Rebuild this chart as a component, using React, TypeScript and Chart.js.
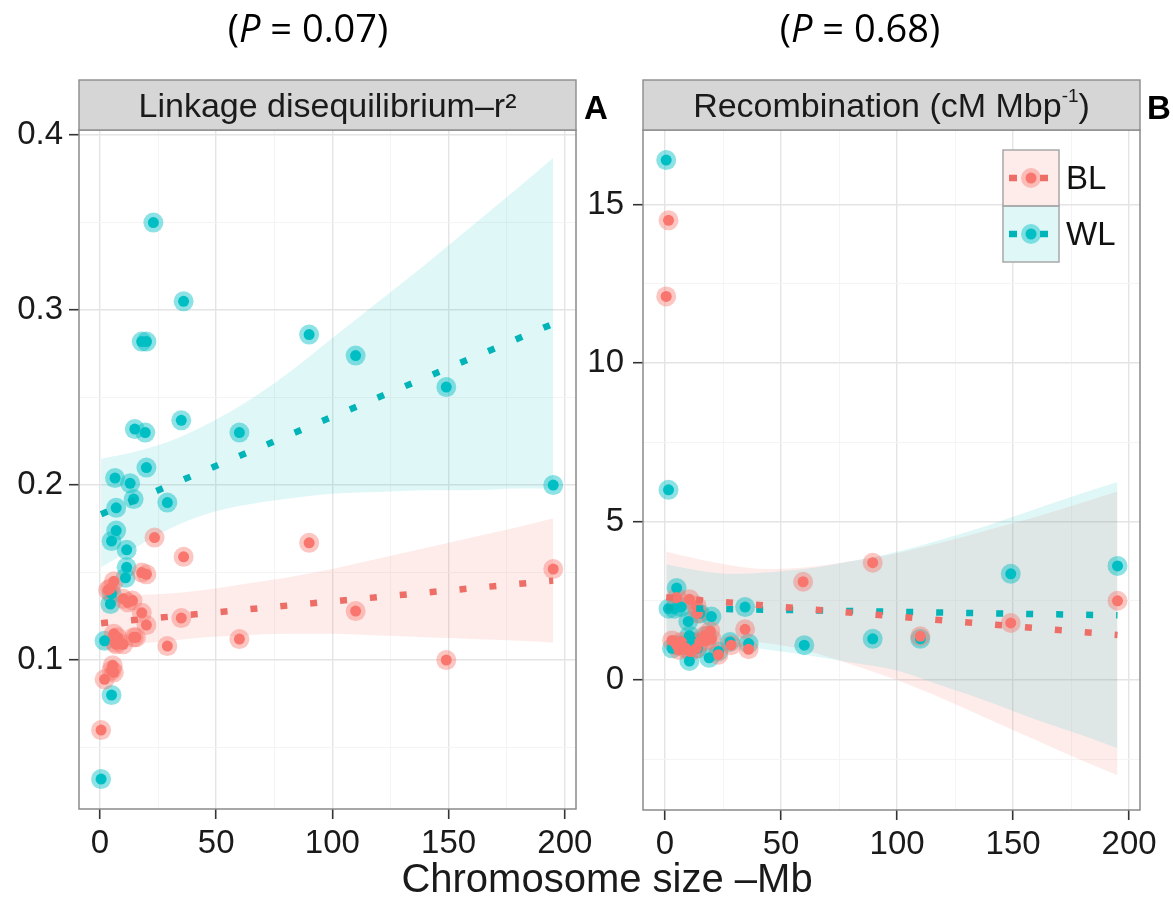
import React, { useEffect, useRef } from "react";
import { Chart, registerables } from "chart.js";

Chart.register(...registerables);

type XY = [number, number];

const RED = "#F8766D";
const TEAL = "#00BFC4";
const RED_HALO = "rgba(248,118,109,0.42)";
const TEAL_HALO = "rgba(0,191,196,0.45)";
const RED_LINE = "#EC6E66";
const TEAL_LINE = "#00B4B8";
const RED_BAND = "rgba(248,118,109,0.14)";
const TEAL_BAND = "rgba(0,191,196,0.12)";
const FONT = '"Liberation Sans", Arial, Helvetica, sans-serif';

// ---- Panel A: linkage disequilibrium (r²) against chromosome size (Mb) ----
const ldBL: XY[] = [
  [0.5, 0.06], [2, 0.089], [3.5, 0.14], [4.5, 0.141], [5, 0.094], [5.5, 0.097],
  [6, 0.093], [6, 0.115], [6, 0.145], [6.5, 0.11], [7, 0.109], [7.5, 0.113],
  [10, 0.109], [10, 0.135], [12, 0.133], [14, 0.134], [14.5, 0.113], [15.5, 0.113],
  [18, 0.127], [18, 0.15], [20, 0.12], [20, 0.149], [23.5, 0.17], [29, 0.108],
  [35, 0.124], [36, 0.159], [60, 0.112], [90, 0.167], [110, 0.128], [149, 0.1],
  [195, 0.152],
];
const ldWL: XY[] = [
  [0.5, 0.032], [2, 0.111], [4.5, 0.132], [5, 0.08], [5, 0.138], [5, 0.168],
  [6.5, 0.204], [7, 0.174], [7, 0.187], [11, 0.147], [11.5, 0.153], [11.5, 0.163],
  [13, 0.201], [14.5, 0.192], [15, 0.232], [18, 0.282], [19.5, 0.23], [20, 0.282],
  [20, 0.21], [23, 0.35], [29, 0.19], [35, 0.237], [36, 0.305], [60, 0.23],
  [90, 0.286], [110, 0.274], [149, 0.256], [195, 0.2],
];
const ldFitBL: XY[] = [[0.5, 0.1211], [195, 0.1454]];
const ldFitWL: XY[] = [[0.5, 0.1833], [195, 0.2922]];

// x positions at which the confidence bands are traced
const bandSize = [0.5, 15, 30, 45, 60, 80, 100, 120, 140, 160, 180, 195];
const ldBandBLUpper = [0.136, 0.137, 0.138, 0.14, 0.143, 0.147, 0.152, 0.158, 0.164, 0.17, 0.176, 0.181];
const ldBandBLLower = [0.106, 0.109, 0.111, 0.113, 0.114, 0.115, 0.115, 0.114, 0.113, 0.112, 0.111, 0.11];
const ldBandWLUpper = [0.215, 0.219, 0.225, 0.234, 0.245, 0.263, 0.284, 0.305, 0.326, 0.348, 0.37, 0.387];
const ldBandWLLower = [0.153, 0.164, 0.175, 0.183, 0.188, 0.192, 0.195, 0.196, 0.197, 0.197, 0.198, 0.198];

// ---- Panel B: recombination rate (cM/Mbp) against chromosome size (Mb) ----
const recBL: XY[] = [
  [0.5, 12.1], [1.5, 14.5], [3, 1.25], [5, 2.6], [5, 1.1], [6, 0.95], [7, 1.2],
  [9, 1.0], [10.5, 2.55], [11, 0.9], [13.5, 1.0], [13.5, 2.35], [14, 2.1],
  [15, 1.2], [17, 1.4], [18, 1.25], [19.5, 1.55], [20, 1.3], [23, 0.8],
  [28.5, 1.1], [34.5, 1.6], [36, 0.97], [59.5, 3.1], [89.5, 3.7], [110, 1.38],
  [149, 1.8], [195, 2.5],
];
const recWL: XY[] = [
  [0.5, 16.4], [1.5, 6.0], [1.5, 2.25], [3, 1.0], [4, 2.25], [5, 2.9], [5, 1.1],
  [7, 2.3], [8, 1.1], [10, 1.85], [10.5, 1.4], [10.5, 0.6], [12, 1.2], [14, 1.0],
  [15, 2.1], [18, 1.4], [19, 0.7], [20, 2.0], [23, 0.9], [28, 1.2], [34.5, 2.3],
  [36, 1.15], [60, 1.1], [89.5, 1.3], [110, 1.3], [149, 3.35], [195, 3.6],
];
const recFitBL: XY[] = [[0.5, 2.61], [195, 1.42]];
const recFitWL: XY[] = [[0.5, 2.27], [195, 2.04]];
const recBandBLUpper = [4.05, 3.8, 3.6, 3.5, 3.55, 3.75, 4.0, 4.35, 4.75, 5.15, 5.6, 5.95];
const recBandBLLower = [1.15, 1.25, 1.25, 1.15, 0.95, 0.5, 0.0, -0.6, -1.25, -1.9, -2.55, -3.0];
const recBandWLUpper = [3.65, 3.45, 3.35, 3.4, 3.5, 3.75, 4.05, 4.45, 4.9, 5.4, 5.9, 6.25];
const recBandWLLower = [0.9, 1.05, 1.05, 0.95, 0.8, 0.55, 0.3, -0.2, -0.7, -1.25, -1.75, -2.15];

// ---- axis ticks ----
const sizeMajorTicks = [0, 50, 100, 150, 200];
const sizeMinorTicks = [25, 75, 125, 175];
const ldMajorTicks = [0.1, 0.2, 0.3, 0.4];
const ldMinorTicks = [0.05, 0.15, 0.25, 0.35];
const recMajorTicks = [0, 5, 10, 15];
const recMinorTicks = [-2.5, 2.5, 7.5, 12.5];

const seriesNames = ["BL", "WL"];

interface PanelSpec {
  canvasWidth: number;
  area: { left: number; right: number; top: number; bottom: number };
  xRange: [number, number];
  yRange: [number, number];
  yMajor: number[];
  yMinor: number[];
  yPad: number;
  bl: XY[];
  wl: XY[];
  fitBL: XY[];
  fitWL: XY[];
  bandBL: [number[], number[]];
  bandWL: [number[], number[]];
  stripTitle: string;
  stripSup?: string;
  stripTail?: string;
  letter: string;
  letterX: number;
  legend?: { x: number; y: number };
}

const CANVAS_H = 901;
const STRIP_TOP = 80;

const toPts = (a: XY[]) => a.map(([x, y]) => ({ x, y }));
const bandPts = (ys: number[]) => bandSize.map((x, i) => ({ x, y: ys[i] }));

function drawKey(
  ctx: CanvasRenderingContext2D, x: number, y: number, w: number, h: number,
  fill: string, line: string, halo: string, core: string
) {
  ctx.fillStyle = "#ffffff";
  ctx.fillRect(x, y, w, h);
  ctx.fillStyle = fill;
  ctx.fillRect(x, y, w, h);
  ctx.save();
  ctx.strokeStyle = line;
  ctx.lineWidth = 6.5;
  ctx.lineCap = "butt";
  ctx.setLineDash([8, 23]);
  ctx.beginPath();
  ctx.moveTo(x + 6, y + h / 2);
  ctx.lineTo(x + w - 4, y + h / 2);
  ctx.stroke();
  ctx.restore();
  ctx.fillStyle = halo;
  ctx.beginPath();
  ctx.arc(x + w / 2, y + h / 2, 10, 0, Math.PI * 2);
  ctx.fill();
  ctx.fillStyle = core;
  ctx.beginPath();
  ctx.arc(x + w / 2, y + h / 2, 5.5, 0, Math.PI * 2);
  ctx.fill();
}

function decorPlugin(spec: PanelSpec) {
  return {
    id: "panelDecor",
    afterDatasetsDraw(chart: Chart) {
      const { ctx, chartArea: a } = chart;
      ctx.save();
      ctx.strokeStyle = "#8a8a8a";
      ctx.lineWidth = 1.5;
      ctx.strokeRect(a.left, a.top, a.right - a.left, a.bottom - a.top);
      if (spec.legend) {
        const { x, y } = spec.legend;
        const w = 56, h = 56;
        drawKey(ctx, x, y, w, h, RED_BAND, RED_LINE, RED_HALO, RED);
        drawKey(ctx, x, y + h, w, h, TEAL_BAND, TEAL_LINE, TEAL_HALO, TEAL);
        ctx.strokeStyle = "#a8a8a8";
        ctx.lineWidth = 1.5;
        ctx.strokeRect(x, y, w, h);
        ctx.strokeRect(x, y + h, w, h);
        ctx.fillStyle = "#111";
        ctx.font = `33px ${FONT}`;
        ctx.textAlign = "left";
        ctx.textBaseline = "middle";
        ctx.fillText(seriesNames[0], x + w + 7, y + h / 2 + 2);
        ctx.fillText(seriesNames[1], x + w + 7, y + h + h / 2 + 2);
      }
      ctx.restore();
    },
    afterDraw(chart: Chart) {
      const { ctx, chartArea: a } = chart;
      ctx.save();
      const stripH = a.top - STRIP_TOP;
      ctx.fillStyle = "#d6d6d6";
      ctx.fillRect(a.left, STRIP_TOP, a.right - a.left, stripH);
      ctx.strokeStyle = "#8c8c8c";
      ctx.lineWidth = 1.4;
      ctx.strokeRect(a.left, STRIP_TOP, a.right - a.left, stripH);

      ctx.fillStyle = "#1a1a1a";
      ctx.textBaseline = "alphabetic";
      const base = 117;
      const main = `34px ${FONT}`;
      const small = `19px ${FONT}`;
      ctx.font = main;
      const w1 = ctx.measureText(spec.stripTitle).width;
      let wSup = 0, wTail = 0;
      if (spec.stripSup) {
        ctx.font = small;
        wSup = ctx.measureText(spec.stripSup).width;
        ctx.font = main;
        wTail = ctx.measureText(spec.stripTail || "").width;
      }
      const total = w1 + wSup + wTail;
      let x0 = (a.left + a.right) / 2 - total / 2;
      ctx.textAlign = "left";
      ctx.font = main;
      ctx.fillText(spec.stripTitle, x0, base);
      if (spec.stripSup) {
        x0 += w1;
        ctx.font = small;
        ctx.fillText(spec.stripSup, x0, base - 15);
        x0 += wSup;
        ctx.font = main;
        ctx.fillText(spec.stripTail || "", x0, base);
      }

      ctx.font = `bold 33px ${FONT}`;
      ctx.fillStyle = "#000";
      ctx.fillText(spec.letter, spec.letterX, 119);
      ctx.restore();
    },
  };
}

function axisScale(
  range: [number, number], major: number[], minor: number[],
  fit: (s: any) => void, pad: number
) {
  const all = [...major, ...minor].sort((p, q) => p - q);
  const isMajor = (v: number) => major.includes(v);
  return {
    type: "linear" as const,
    min: range[0],
    max: range[1],
    afterBuildTicks: (s: any) => {
      s.ticks = all.map((v) => ({ value: v }));
    },
    afterFit: fit,
    border: { display: false },
    grid: {
      color: (c: any) => (isMajor(c.tick?.value) ? "#e4e4e4" : "#f3f3f3"),
      lineWidth: (c: any) => (isMajor(c.tick?.value) ? 1.4 : 0.9),
      drawTicks: true,
      tickLength: 10,
      tickWidth: 1.6,
      tickColor: (c: any) => (isMajor(c.tick?.value) ? "#333333" : "rgba(0,0,0,0)"),
    },
    ticks: {
      autoSkip: false,
      maxRotation: 0,
      minRotation: 0,
      padding: pad,
      color: "#1a1a1a",
      font: { family: FONT, size: 33 },
      callback: (v: any) => (isMajor(Number(v)) ? String(v) : ""),
    },
  };
}

function buildConfig(spec: PanelSpec): any {
  const { area } = spec;
  const pointSet = (data: XY[], r: number, color: string, order: number) => ({
    data: toPts(data),
    showLine: false,
    pointRadius: r,
    pointBackgroundColor: color,
    pointBorderWidth: 0,
    pointHoverRadius: r,
    order,
  });
  const fitSet = (data: XY[], color: string) => ({
    data: toPts(data),
    showLine: true,
    borderColor: color,
    borderWidth: 6.5,
    borderDash: [7, 23],
    borderCapStyle: "butt",
    pointRadius: 0,
    fill: false,
    order: 1,
  });
  const edgeSet = (ys: number[], order: number, fill: any, color: string) => ({
    data: bandPts(ys),
    showLine: true,
    borderWidth: 0,
    borderColor: "rgba(0,0,0,0)",
    backgroundColor: color,
    pointRadius: 0,
    cubicInterpolationMode: "monotone",
    fill,
    order,
  });
  return {
    type: "line",
    data: {
      datasets: [
        fitSet(spec.fitBL, RED_LINE),
        fitSet(spec.fitWL, TEAL_LINE),
        pointSet(spec.bl, 5.5, RED, 2),
        pointSet(spec.wl, 5.5, TEAL, 3),
        pointSet(spec.bl, 10, RED_HALO, 4),
        pointSet(spec.wl, 10, TEAL_HALO, 5),
        edgeSet(spec.bandBL[1], 11, false, RED_BAND), // index 6
        edgeSet(spec.bandBL[0], 10, 6, RED_BAND),
        edgeSet(spec.bandWL[1], 9, false, TEAL_BAND), // index 8
        edgeSet(spec.bandWL[0], 8, 8, TEAL_BAND),
      ],
    },
    options: {
      responsive: false,
      animation: false,
      events: [],
      layout: {
        padding: {
          left: 0,
          top: area.top,
          right: spec.canvasWidth - area.right,
          bottom: 0,
        },
      },
      plugins: { legend: { display: false }, tooltip: { enabled: false } },
      scales: {
        x: axisScale(spec.xRange, sizeMajorTicks, sizeMinorTicks, (s: any) => {
          s.height = CANVAS_H - area.bottom;
        }, 5),
        y: axisScale(spec.yRange, spec.yMajor, spec.yMinor, (s: any) => {
          s.width = area.left;
        }, spec.yPad),
      },
    },
    plugins: [decorPlugin(spec)],
  };
}

const panelA: PanelSpec = {
  canvasWidth: 620,
  area: { left: 79, right: 576, top: 130, bottom: 809 },
  xRange: [-9.0, 204.8],
  yRange: [0.0149, 0.4029],
  yMajor: ldMajorTicks,
  yMinor: ldMinorTicks,
  yPad: 6,
  bl: ldBL,
  wl: ldWL,
  fitBL: ldFitBL,
  fitWL: ldFitWL,
  bandBL: [ldBandBLUpper, ldBandBLLower],
  bandWL: [ldBandWLUpper, ldBandWLLower],
  stripTitle: "Linkage disequilibrium\u2013r\u00B2",
  letter: "A",
  letterX: 584,
};

const panelB: PanelSpec = {
  canvasWidth: 593,
  area: { left: 63, right: 560, top: 130, bottom: 810 },
  xRange: [-9.5, 204.7],
  yRange: [-4.1, 17.35],
  yMajor: recMajorTicks,
  yMinor: recMinorTicks,
  yPad: 9,
  bl: recBL,
  wl: recWL,
  fitBL: recFitBL,
  fitWL: recFitWL,
  bandBL: [recBandBLUpper, recBandBLLower],
  bandWL: [recBandWLUpper, recBandWLLower],
  stripTitle: "Recombination (cM Mbp",
  stripSup: "-1",
  stripTail: ")",
  letter: "B",
  letterX: 567,
  legend: { x: 423, y: 150 },
};

function Panel({ spec, left }: { spec: PanelSpec; left: number }) {
  const ref = useRef<HTMLCanvasElement | null>(null);
  useEffect(() => {
    if (!ref.current) return;
    const chart = new Chart(ref.current, buildConfig(spec));
    return () => chart.destroy();
  }, [spec]);
  return (
    <canvas
      ref={ref}
      width={spec.canvasWidth}
      height={CANVAS_H}
      style={{ position: "absolute", left, top: 0, width: spec.canvasWidth, height: CANVAS_H }}
    />
  );
}

const titleStyle = (cx: number): React.CSSProperties => ({
  position: "absolute",
  left: cx - 200,
  top: 2,
  width: 400,
  textAlign: "center",
  fontFamily: '"Open Sans", Lato, sans-serif',
  fontSize: 38,
  lineHeight: "50px",
  color: "#000",
});

export default function App() {
  return (
    <div
      style={{
        position: "absolute",
        left: 0,
        top: 0,
        width: 1173,
        height: 901,
        background: "#ffffff",
        overflow: "hidden",
      }}
    >
      <Panel spec={panelA} left={0} />
      <Panel spec={panelB} left={580} />
      <div style={titleStyle(308)}>
        (<i>P</i> = 0.07)
      </div>
      <div style={titleStyle(860)}>
        (<i>P</i> = 0.68)
      </div>
      <div
        style={{
          position: "absolute",
          left: 307,
          top: 858,
          width: 600,
          textAlign: "center",
          fontFamily: FONT,
          fontSize: 40,
          lineHeight: "40px",
          color: "#1a1a1a",
        }}
      >
        Chromosome size –Mb
      </div>
    </div>
  );
}
